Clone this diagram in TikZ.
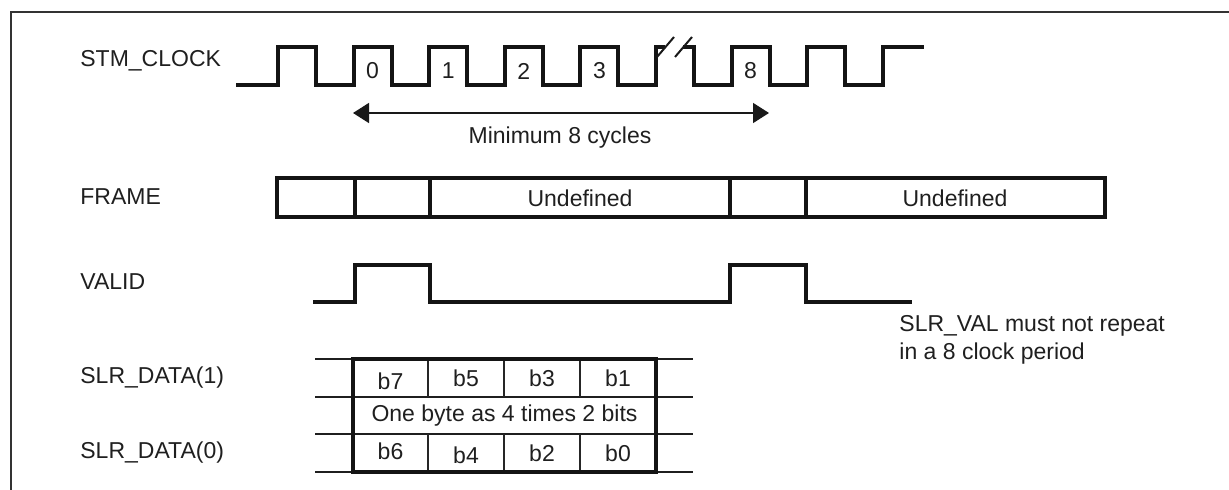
\documentclass[tikz,border=0pt]{standalone}
\usepackage{fontspec}
\setmainfont{Liberation Sans}
\usetikzlibrary{arrows.meta}
\begin{document}
\begin{tikzpicture}[x=0.5pt,y=-0.5pt,
  lbl/.style={font=\fontsize{11.5}{13.8}\selectfont, inner sep=0pt, text=black!88},
  wave/.style={line width=2pt, line join=miter, line cap=rect, draw=black!92},
  thinline/.style={line width=0.75pt, draw=black!85},
  extline/.style={line width=1pt, draw=black!88},
  boxline/.style={line width=2pt, draw=black!92},
  brk/.style={line width=1pt, draw=black!90},
  dimarrow/.style={line width=0.75pt, draw=black!90, {Triangle[length=8pt,width=10pt]}-{Triangle[length=8pt,width=10pt]}},
  border/.style={line width=1.1pt, draw=black!80}]
\useasboundingbox (0,0) rectangle (1229,490);
% outer border (left and top only)
\draw[border] (11,490) -- (11,12) -- (1229,12);

% signal names
\node[lbl, anchor=west] (nclk) at (80,61) {STM\_CLOCK};
\node[lbl, anchor=west] (nframe) at (80,197) {FRAME};
\node[lbl, anchor=west] (nvalid) at (80,282) {VALID};
\node[lbl, anchor=west] (nd1) at (80,378) {SLR\_DATA(1)};
\node[lbl, anchor=west] (nd0) at (80,453) {SLR\_DATA(0)};

% clock waveform
\draw[wave] (238,85) -- (278,85) -- (278,47) -- (316,47) -- (316,85)
  -- (353.6,85) -- (353.6,47) -- (391.6,47) -- (391.6,85)
  -- (429.2,85) -- (429.2,47) -- (467.2,47) -- (467.2,85)
  -- (504.8,85) -- (504.8,47) -- (542.8,47) -- (542.8,85)
  -- (580.4,85) -- (580.4,47) -- (618.4,47) -- (618.4,85)
  -- (656,85) -- (656,47) -- (663,47);
\draw[wave] (685,47) -- (694,47) -- (694,85)
  -- (731.6,85) -- (731.6,47) -- (769.6,47) -- (769.6,85)
  -- (807.2,85) -- (807.2,47) -- (845.2,47) -- (845.2,85)
  -- (882.8,85) -- (882.8,47) -- (922,47);
\draw[brk] (657,57) -- (674,37);
\draw[brk] (675,57) -- (692,37);
\node[lbl] (c0) at (372.6,71) {0};
\node[lbl] (c1) at (448.2,71) {1};
\node[lbl] (c2) at (523.8,71) {2};
\node[lbl] (c3) at (599.4,71) {3};
\node[lbl] (c8) at (750.6,71) {8};

% minimum 8 cycles arrow
\coordinate (aL) at (353,113);
\coordinate (aR) at (769,113);
\draw[dimarrow] (aL) -- (aR);
\node[lbl] (tmin) at (560,138) {Minimum 8 cycles};

% FRAME
\draw[boxline] (277,178) rectangle (1105,217);
\foreach \xx in {355,430,730,806} \draw[boxline] (\xx,178) -- (\xx,217);
\node[lbl] (u1) at (580,198) {Undefined};
\node[lbl] (u2) at (955,198) {Undefined};

% VALID
\draw[wave] (315,302) -- (355,302) -- (355,265) -- (430,265) -- (430,302)
  -- (730,302) -- (730,265) -- (806,265) -- (806,302) -- (910,302);
\node[lbl, anchor=north west, align=left] (note) at (899,315)
  {SLR\_VAL must not repeat\\in a 8 clock period};

% data table
\foreach \yy in {359,397,434,472} \draw[extline] (315,\yy) -- (693,\yy);
\foreach \xx in {428,504,580} {
  \draw[thinline] (\xx,359) -- (\xx,397);
  \draw[thinline] (\xx,434) -- (\xx,472);
}
\draw[boxline] (353,359) rectangle (656,472);
\node[lbl] (b7) at (390.5,381) {b7};
\node[lbl] (b5) at (466,378) {b5};
\node[lbl] (b3) at (542,378) {b3};
\node[lbl] (b1) at (618,378) {b1};
\node[lbl] (byte) at (504.5,415.5) {One byte as 4 times 2 bits};
\node[lbl] (b6) at (390.5,451) {b6};
\node[lbl] (b4) at (466,455) {b4};
\node[lbl] (b2) at (542,453) {b2};
\node[lbl] (b0) at (618,453) {b0};
\end{tikzpicture}
\end{document}
